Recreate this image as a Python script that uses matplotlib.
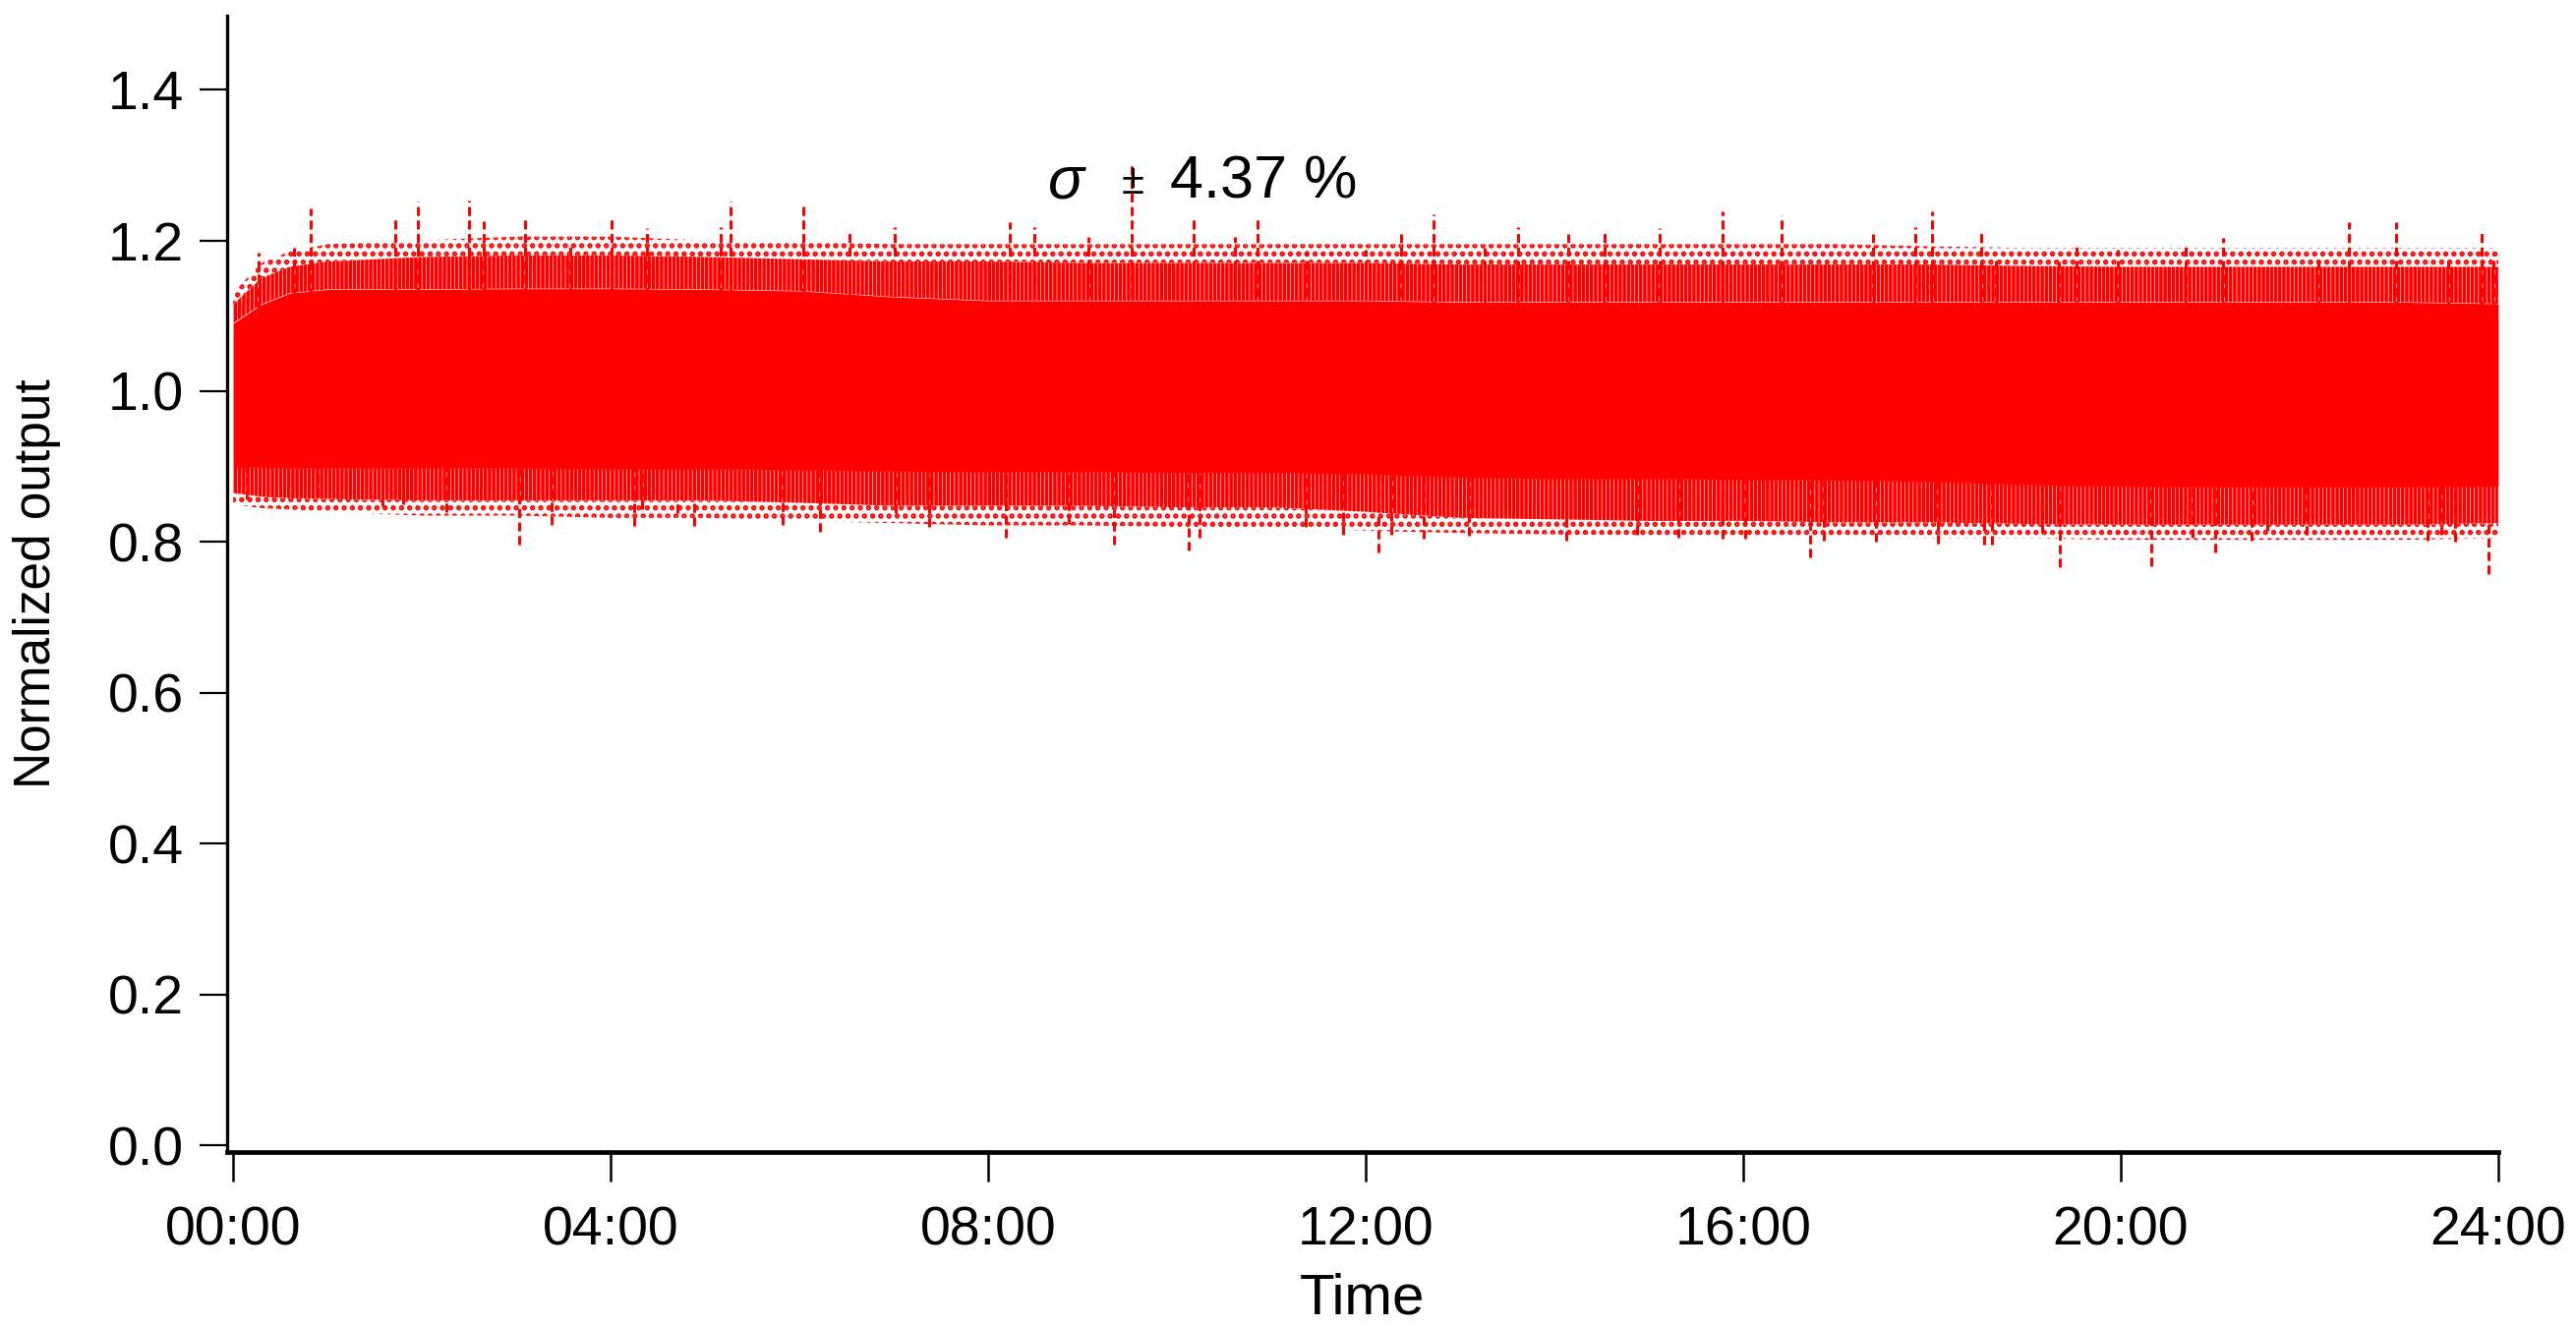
import numpy as np
import matplotlib
matplotlib.use("Agg")
import matplotlib.pyplot as plt
from matplotlib import font_manager

# envelope of the noisy output (hours, normalized output)
hours = [0, 0.3, 0.6] + list(range(1, 25))
core_hi = [1.090, 1.115, 1.130, 1.135, 1.135, 1.136, 1.136, 1.135, 1.133, 1.125, 1.120, 1.120, 1.120, 1.120,
           1.120, 1.118, 1.118, 1.118, 1.118, 1.118, 1.118, 1.118, 1.118, 1.118, 1.118, 1.118, 1.116]
core_lo = [0.900, 0.899, 0.898, 0.898, 0.898, 0.898, 0.897, 0.897, 0.896, 0.894, 0.893, 0.893, 0.892,
           0.892, 0.890, 0.886, 0.884, 0.884, 0.883, 0.882, 0.880, 0.876, 0.874, 0.873, 0.873, 0.873, 0.874]
fringe_hi = [1.115, 1.150, 1.165, 1.172, 1.178, 1.180, 1.180, 1.178, 1.175, 1.172, 1.172, 1.170, 1.170,
             1.170, 1.170, 1.168, 1.168, 1.168, 1.168, 1.168, 1.168, 1.166, 1.165, 1.165, 1.165, 1.165, 1.165]
fringe_lo = [0.865, 0.860, 0.858, 0.857, 0.855, 0.855, 0.855, 0.855, 0.852, 0.848, 0.848, 0.848, 0.846,
             0.846, 0.840, 0.832, 0.830, 0.828, 0.828, 0.826, 0.826, 0.824, 0.823, 0.823, 0.823, 0.823, 0.825]
outer_hi = [1.130, 1.170, 1.185, 1.195, 1.200, 1.205, 1.205, 1.200, 1.198, 1.195, 1.195, 1.195, 1.195,
            1.195, 1.195, 1.195, 1.195, 1.195, 1.195, 1.195, 1.192, 1.190, 1.190, 1.190, 1.190, 1.190, 1.190]
outer_lo = [0.850, 0.845, 0.843, 0.840, 0.835, 0.835, 0.832, 0.832, 0.828, 0.825, 0.822, 0.822, 0.820,
            0.820, 0.815, 0.812, 0.810, 0.808, 0.808, 0.806, 0.805, 0.805, 0.803, 0.803, 0.803, 0.803, 0.805]

# isolated spikes above / below the band
up_t = [0.27, 0.65, 0.82, 1.72, 1.96, 2.50, 2.66, 3.09, 3.57, 4.01, 4.38, 5.17, 5.27, 6.04,
        6.53, 7.01, 8.23, 8.49, 9.06, 9.52, 10.18, 10.61, 10.85, 11.38, 12.00, 12.38,
        12.72, 13.26, 13.61, 14.15, 14.53, 15.11, 15.78, 16.41, 17.38, 17.82, 18.00, 18.52,
        18.68, 19.34, 19.53, 19.97, 20.69, 21.08, 22.09, 22.42, 22.92, 23.47, 23.82, 23.95]
up_v = [1.184, 1.190, 1.243, 1.229, 1.251, 1.253, 1.226, 1.229, 1.196, 1.229, 1.216, 1.218, 1.252, 1.250,
        1.212, 1.218, 1.224, 1.218, 1.205, 1.303, 1.229, 1.204, 1.231, 1.186, 1.188, 1.208,
        1.235, 1.190, 1.218, 1.208, 1.212, 1.216, 1.239, 1.233, 1.208, 1.218, 1.239, 1.210,
        1.176, 1.172, 1.196, 1.188, 1.196, 1.203, 1.176, 1.224, 1.224, 1.176, 1.213, 1.180]
dn_t = [0.15, 0.89, 1.58, 1.80, 2.26, 3.03, 3.37, 4.25, 4.33, 4.71, 4.89, 5.82,
        6.22, 7.02, 7.38, 8.19, 8.85, 9.33, 10.12, 10.24, 11.36, 11.76, 12.14, 12.27,
        12.61, 13.09, 14.13, 14.88, 15.31, 15.78, 16.02, 16.71, 16.86, 17.41, 18.06, 18.55,
        18.64, 19.17, 19.36, 20.32, 20.76, 21.00, 21.39, 21.55, 21.97, 23.25, 23.40, 23.54, 23.90]
dn_v = [0.857, 0.860, 0.848, 0.850, 0.840, 0.796, 0.823, 0.821, 0.843, 0.838, 0.821, 0.823,
        0.814, 0.838, 0.820, 0.806, 0.824, 0.797, 0.789, 0.806, 0.820, 0.810, 0.786, 0.810,
        0.804, 0.808, 0.802, 0.809, 0.806, 0.805, 0.805, 0.780, 0.802, 0.801, 0.798, 0.797,
        0.797, 0.812, 0.766, 0.768, 0.806, 0.786, 0.802, 0.815, 0.810, 0.802, 0.810, 0.800, 0.758]

tick_pos = [0, 4, 8, 12, 16, 20, 24]
tick_lab = ["00:00", "04:00", "08:00", "12:00", "16:00", "20:00", "24:00"]
y_ticks = [0.0, 0.2, 0.4, 0.6, 0.8, 1.0, 1.2, 1.4]

names = {f.name for f in font_manager.fontManager.ttflist}
narrow = "Liberation Sans Narrow" if "Liberation Sans Narrow" in names else "Liberation Sans"
plt.rcParams["font.family"] = ["Liberation Sans", "DejaVu Sans"]
plt.rcParams["hatch.color"] = "red"
plt.rcParams["hatch.linewidth"] = 1.3

red = "#ff0000"
fig = plt.figure(figsize=(13.1, 6.755), dpi=200)
ax = fig.add_axes([0.0882, 0.1325, 0.9698 - 0.0882, 0.9882 - 0.1325])

# sparse outer speckles
ax.fill_between(hours, fringe_hi, outer_hi, facecolor="white", edgecolor=red, hatch="....", lw=0)
ax.fill_between(hours, outer_lo, fringe_lo, facecolor="white", edgecolor=red, hatch="....", lw=0)
# dense fringes
ax.fill_between(hours, core_hi, fringe_hi, facecolor="white", edgecolor=red, hatch="||||||||", lw=0)
ax.fill_between(hours, fringe_lo, core_lo, facecolor="white", edgecolor=red, hatch="||||||||", lw=0)
# spikes
ax.vlines(up_t, 1.0, up_v, colors=red, lw=1.1, linestyles=(0, (3, 1.5)))
ax.vlines(dn_t, dn_v, 1.0, colors=red, lw=1.1, linestyles=(0, (3, 1.5)))
# solid core
ax.fill_between(hours, core_lo, core_hi, color=red, lw=0)

ax.set_xlim(-0.0625, 24)
ax.set_ylim(-0.009, 1.498)
ax.set_xticks(tick_pos)
ax.set_xticklabels(tick_lab, family=narrow, fontsize=20)
ax.set_yticks(y_ticks)
ax.set_yticklabels([f"{v:.1f}" for v in y_ticks], family=narrow, fontsize=20)
ax.tick_params(axis="x", direction="out", length=10.8, width=0.9, pad=9)
ax.tick_params(axis="y", direction="out", length=10, width=0.8, pad=6)

for s in ["top", "right"]:
    ax.spines[s].set_visible(False)
ax.spines["left"].set_linewidth(1.2)
ax.spines["bottom"].set_linewidth(1.7)

ax.set_xlabel("Time", family=narrow, fontsize=21)
ax.xaxis.set_label_coords(0.5, -0.106)
ax.xaxis.label.set_va("top")
ax.set_ylabel("Normalized output", fontsize=18.5)
ax.yaxis.set_label_coords(-0.084, 0.5)
ax.yaxis.label.set_va("center")

ax.text(8.63, 1.256, "σ", style="italic", fontsize=22, ha="left", va="baseline")
ax.text(9.53, 1.262, "±", fontsize=15, ha="center", va="baseline")
ax.text(9.93, 1.256, "4.37 %", fontsize=22, ha="left", va="baseline")

fig.savefig("out.png", dpi=200)
